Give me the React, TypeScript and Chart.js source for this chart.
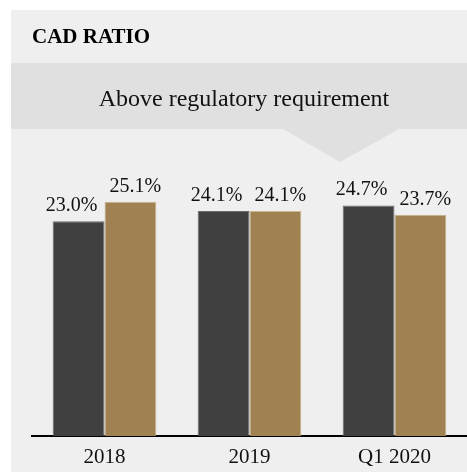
import React, { useEffect, useRef } from "react";
import { Chart, registerables } from "chart.js";

Chart.register(...registerables);

const categories = ["2018", "2019", "Q1 2020"];
const seriesA = [23.0, 24.1, 24.7];
const seriesB = [25.1, 24.1, 23.7];
const labelsA = ["23.0%", "24.1%", "24.7%"];
const labelsB = ["25.1%", "24.1%", "23.7%"];
const title = "CAD RATIO";
const banner = "Above regulatory requirement";

const FONT = "'Liberation Serif', 'Times New Roman', serif";

const W = 467;
const H = 472;

const backgroundPlugin = {
  id: "bgPanel",
  beforeDraw(chart: any) {
    const ctx = chart.ctx;
    ctx.save();
    ctx.fillStyle = "#ffffff";
    ctx.fillRect(0, 0, W, H);
    ctx.fillStyle = "#efefef";
    ctx.fillRect(11, 10, W - 11, H - 10);
    ctx.fillStyle = "#e0e0e0";
    ctx.fillRect(11, 63, W - 11, 66);
    ctx.beginPath();
    ctx.moveTo(283, 129);
    ctx.lineTo(399, 129);
    ctx.lineTo(340, 162);
    ctx.closePath();
    ctx.fill();
    ctx.fillStyle = "#000000";
    ctx.font = "bold 21px " + FONT;
    ctx.textAlign = "left";
    ctx.textBaseline = "alphabetic";
    ctx.fillText(title, 32, 43);
    ctx.font = "24px " + FONT;
    ctx.textAlign = "center";
    ctx.fillStyle = "#111111";
    ctx.fillText(banner, 244, 106);
    ctx.restore();
  },
};

const valueLabelPlugin = {
  id: "valueLabels",
  afterDatasetsDraw(chart: any) {
    const ctx = chart.ctx;
    ctx.save();
    ctx.font = "20px " + FONT;
    ctx.fillStyle = "#111111";
    ctx.textAlign = "center";
    ctx.textBaseline = "alphabetic";
    const sets = [labelsA, labelsB];
    const offsets = [-7, 5];
    chart.data.datasets.forEach((_ds: any, di: number) => {
      const meta = chart.getDatasetMeta(di);
      meta.data.forEach((el: any, i: number) => {
        ctx.fillText(sets[di][i], el.x + offsets[di], el.y - 10);
      });
    });
    ctx.restore();
  },
};

export default function App() {
  const ref = useRef<HTMLCanvasElement | null>(null);
  useEffect(() => {
    if (!ref.current) return;
    const chart = new Chart(ref.current, {
      type: "bar",
      data: {
        labels: categories,
        datasets: [
          {
            data: seriesA,
            backgroundColor: "#404040",
            borderColor: "#6a6a6a",
            borderWidth: 1,
          },
          {
            data: seriesB,
            backgroundColor: "#a08252",
            borderColor: "#c9b48e",
            borderWidth: 1,
          },
        ],
      },
      options: {
        responsive: false,
        animation: false,
        events: [],
        layout: { padding: { top: 156, left: 32, right: 0, bottom: 2 } },
        plugins: {
          legend: { display: false },
          tooltip: { enabled: false },
          title: { display: false },
        },
        datasets: {
          bar: { barPercentage: 1.0, categoryPercentage: 0.715 },
        },
        scales: {
          x: {
            grid: { display: false, drawTicks: false },
            border: { display: true, color: "#000000", width: 2 },
            ticks: {
              color: "#111111",
              padding: 9,
              font: { family: FONT, size: 21 },
            },
            afterFit: (scale: any) => {
              scale.height = 34;
            },
          },
          y: {
            display: false,
            min: 0,
            max: 30,
          },
        },
      },
      plugins: [backgroundPlugin, valueLabelPlugin],
    });
    return () => chart.destroy();
  }, []);
  return (
    <div style={{ position: "fixed", left: 0, top: 0, width: W, height: H }}>
      <canvas ref={ref} width={W} height={H} style={{ display: "block" }} />
    </div>
  );
}
